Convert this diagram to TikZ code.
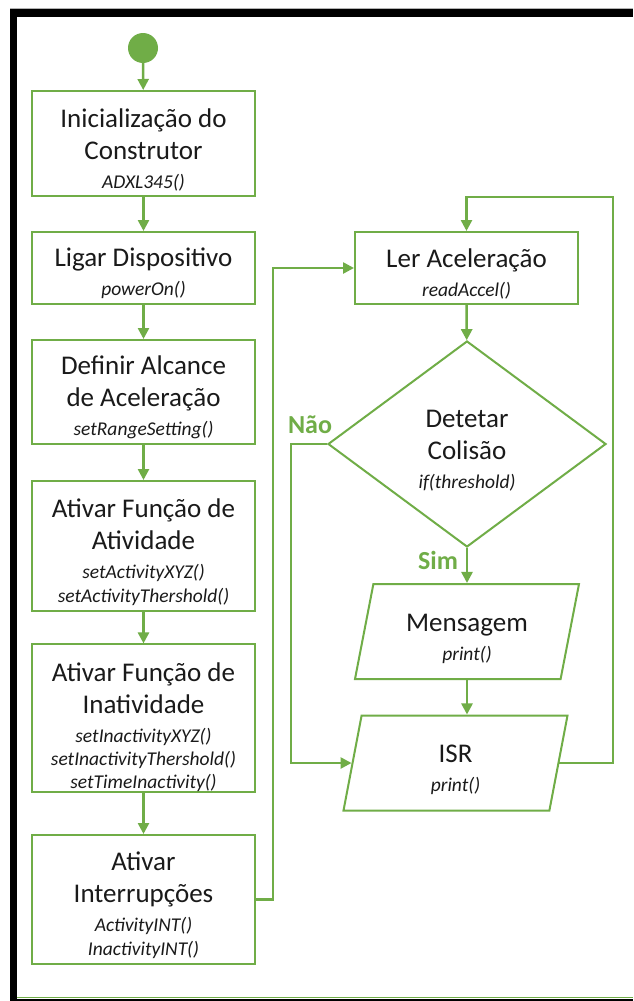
\documentclass[tikz,border=0pt]{standalone}
\usepackage{fontspec}
\setmainfont{Carlito}
\usetikzlibrary{shapes.geometric,arrows.meta}
\definecolor{gr}{HTML}{70AD47}
\definecolor{txt}{HTML}{1A1A1A}
\newcommand\bigtxt{\fontsize{27}{32}\selectfont}
\newcommand\sm[1]{{\fontsize{19.5}{22}\selectfont\itshape #1}}
\newcommand\tstrut[1]{\rule{0pt}{#1}}
\begin{document}
\begin{tikzpicture}[x=1pt,y=-1pt,
  box/.style={draw=gr,line width=2pt,fill=white,minimum width=223pt,align=center,inner sep=0pt,text=txt,font=\bigtxt},
  dec/.style={diamond,draw=gr,line width=2pt,fill=white,minimum width=278pt,minimum height=206pt,inner sep=0pt,align=center,text=txt,font=\bigtxt},
  para/.style={trapezium,trapezium left angle=74,trapezium right angle=106,trapezium stretches body,draw=gr,line width=2pt,fill=white,minimum width=224pt,minimum height=95pt,inner sep=0pt,align=center,text=txt,font=\bigtxt},
  arr/.style={draw=gr,line width=2.5pt,-{Triangle[length=11pt,width=11pt]}},
  lab/.style={text=gr,font=\fontsize{26}{30}\selectfont\bfseries,inner sep=0pt}]
\useasboundingbox (0,0) rectangle (633,1001);
\fill[white] (0,0) rectangle (633,1001);
\draw[gray!60,line width=1pt] (10,8) -- (633,8);
\fill[black] (10,9) rectangle (633,17);
\fill[black] (10,9) rectangle (17,1001);
\draw[gr,line width=1pt] (17,997.5) -- (633,997.5);
\fill[black] (17,999) rectangle (633,1001);

\node[circle,fill=gr,minimum size=30pt,inner sep=0pt] (start) at (143,48) {};
\node[box,minimum height=105pt] (b1) at (143.5,143.5) {\tstrut{31pt}Inicialização do\\Construtor\\[-3pt]\sm{ADXL345()}};
\node[box,minimum height=72pt] (b2) at (143.5,268) {\tstrut{30pt}Ligar Dispositivo\\[-3pt]\sm{powerOn()}};
\node[box,minimum height=104pt] (b3) at (143.5,392) {\tstrut{30pt}Definir Alcance\\de Aceleração\\[-3pt]\sm{setRangeSetting()}};
\node[box,minimum height=130pt] (b4) at (143.5,546) {\tstrut{31pt}Ativar Função de\\Atividade\\[-3pt]\sm{setActivityXYZ()}\\[-8pt]\sm{setActivityThershold()}};
\node[box,minimum height=144pt] (b5) at (143.5,718) {\tstrut{37pt}Ativar Função de\\Inatividade\\[-3pt]\sm{setInactivityXYZ()}\\[-9pt]\sm{setInactivityThershold()}\\[-9pt]\sm{setTimeInactivity()}};
\node[box,minimum height=129pt] (b6) at (143.5,899.5) {\tstrut{30pt}Ativar\\Interrupções\\[-3pt]\sm{ActivityINT()}\\[-8pt]\sm{InactivityINT()}};

\node[box,minimum height=72pt] (ler) at (466.5,268) {\tstrut{30pt}Ler Aceleração\\[-3pt]\sm{readAccel()}};
\node[dec] (dec) at (467,444) {\tstrut{30pt}Detetar\\Colisão\\[-3pt]\sm{if(threshold)}};
\node[para] (msg) at (467,631.5) {\tstrut{32pt}Mensagem\\[-3pt]\sm{print()}};
\node[para] (isr) at (455.5,763) {\tstrut{31pt}ISR\\[-3pt]\sm{print()}};

\node[lab] (nao) at (310,425) {Não};
\node[lab] (sim) at (438,560) {Sim};

\coordinate (r1) at (613,197);
\draw[arr] (start) -- (b1);
\draw[arr] (b1) -- (b2);
\draw[arr] (b2) -- (b3);
\draw[arr] (b3) -- (b4);
\draw[arr] (b4) -- (b5);
\draw[arr] (b5) -- (b6);
\draw[arr] (b6.east) -- ++(17,0) |- (ler.west);
\draw[arr] (ler) -- (dec);
\draw[arr] (dec.west) -- ++(-36,0) |- (isr.west);
\draw[arr] (dec.south) -- (dec.south |- msg.north);
\draw[arr] (dec.south |- msg.south) -- (dec.south |- isr.north);
\draw[arr] (isr.east) -| (r1) -| (ler.north);
\end{tikzpicture}
\end{document}
